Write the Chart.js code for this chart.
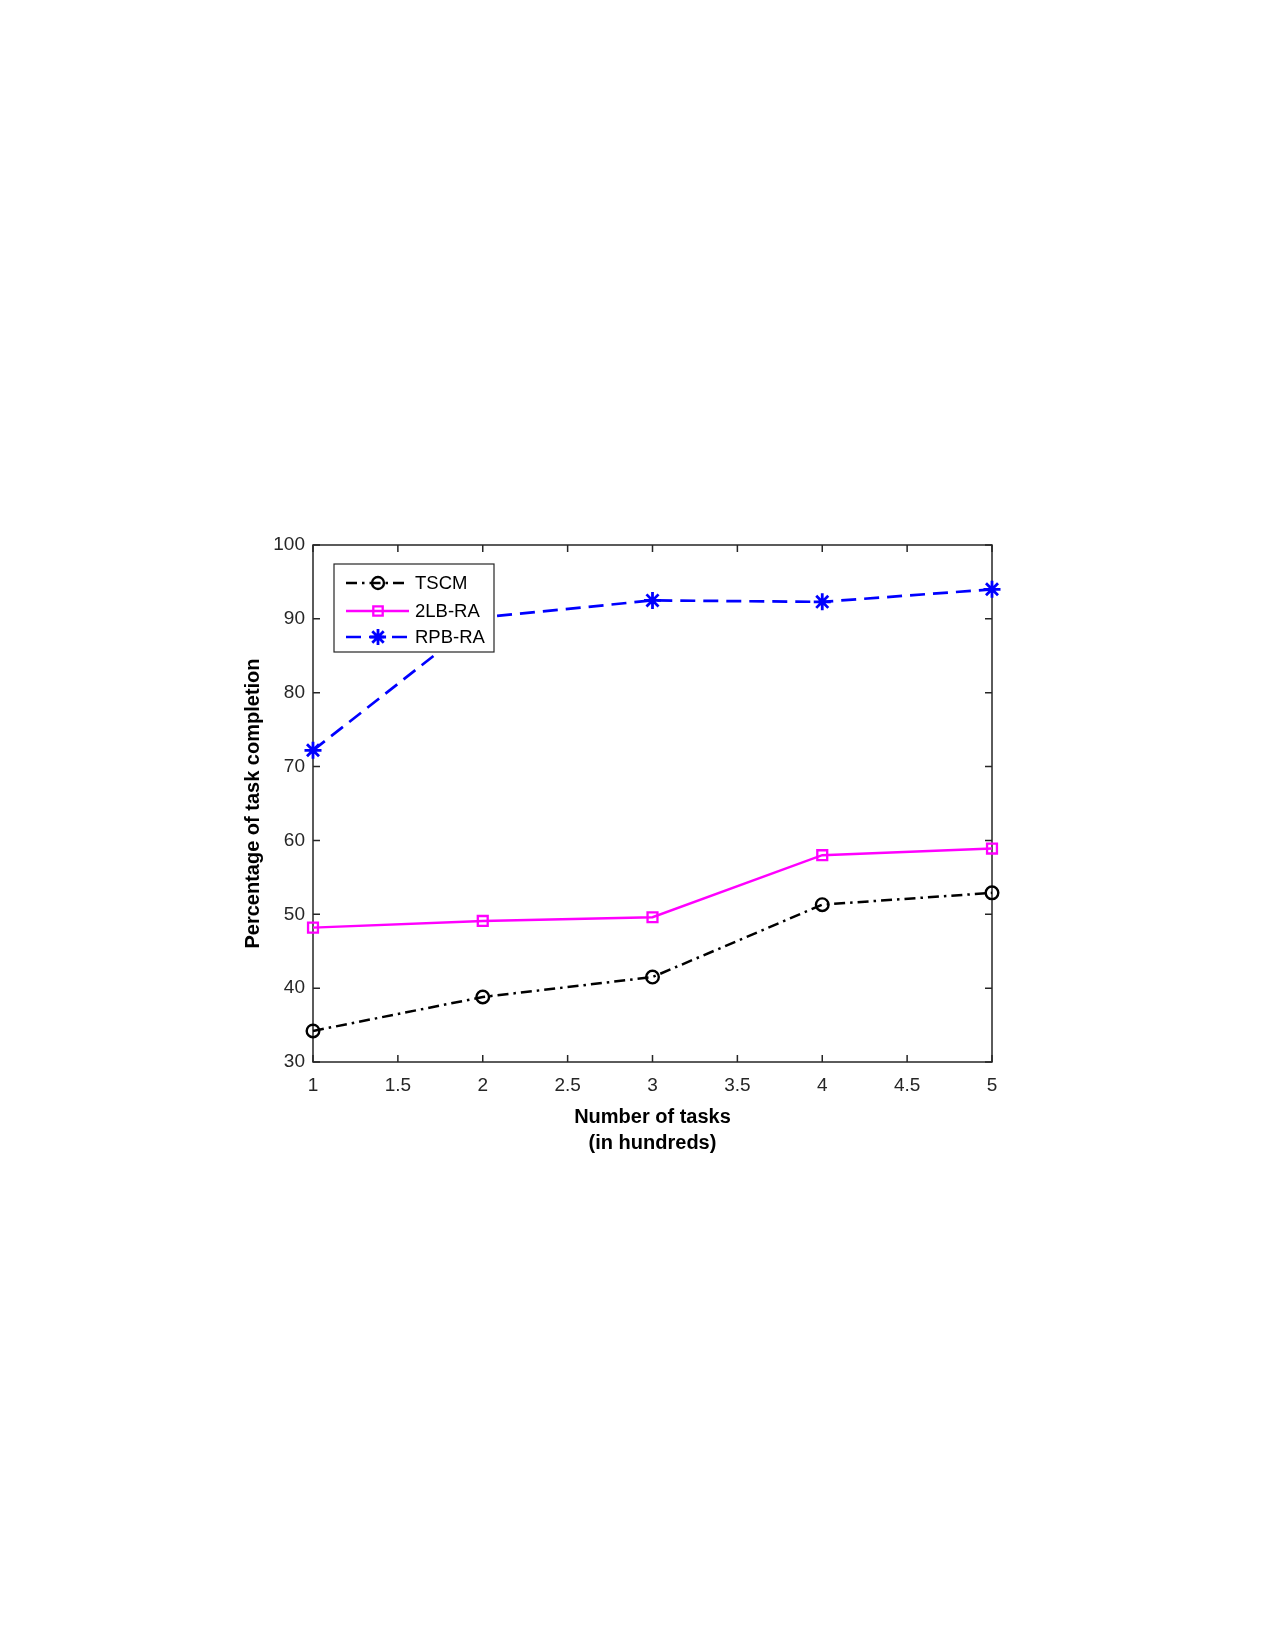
<!DOCTYPE html>
<html>
<head>
<meta charset="utf-8">
<script src="https://cdn.jsdelivr.net/npm/chart.js@4/dist/chart.umd.min.js"></script>
<style>
  html, body { margin: 0; padding: 0; background: #fff; }
  #wrap { width: 1275px; height: 1650px; }
</style>
</head>
<body>
<div id="wrap"><canvas id="c" width="1275" height="1650"></canvas></div>
<script>
// ---- data ----
const xValues = [1, 2, 3, 4, 5];
const seriesNames = ['TSCM', '2LB-RA', 'RPB-RA'];
const tscm = [34.2, 38.8, 41.5, 51.3, 52.9];
const lb2ra = [48.2, 49.1, 49.6, 58.0, 58.9];
const rpbra = [72.2, 90.2, 92.5, 92.3, 94.0];
const xTitle = ['Number of tasks', '(in hundreds)'];
const yTitle = 'Percentage of task completion';

const toPts = arr => arr.map((v, i) => ({ x: xValues[i], y: v }));
const FONT = 'Liberation Sans, Arial, Helvetica, sans-serif';
const AXC = '#262626';

const styles = [
  { color: '#000000', dash: [11, 5, 2.5, 5], marker: 'circle', radius: 6.3, width: 2.5, mw: 2.4 },
  { color: '#ff00ff', dash: [], marker: 'rect', radius: 7.0, width: 2.4, mw: 2.3 },
  { color: '#0000ff', dash: [15, 8], marker: 'star', radius: 8.5, width: 2.7, mw: 2.8 }
];
const seriesData = [tscm, lb2ra, rpbra];

const datasets = seriesData.map((d, i) => ({
  label: seriesNames[i],
  data: toPts(d),
  borderColor: styles[i].color,
  backgroundColor: 'rgba(0,0,0,0)',
  borderWidth: styles[i].width,
  borderDash: styles[i].dash,
  pointStyle: styles[i].marker,
  pointRadius: styles[i].radius,
  pointBorderWidth: styles[i].mw,
  pointBorderColor: styles[i].color,
  pointBackgroundColor: 'rgba(0,0,0,0)',
  tension: 0,
  clip: false
}));

// frame + inward ticks on all four sides
const framePlugin = {
  id: 'frame',
  beforeDatasetsDraw(chart) {
    const { ctx, chartArea: a, scales } = chart;
    ctx.save();
    ctx.strokeStyle = AXC;
    ctx.lineWidth = 1.5;
    ctx.setLineDash([]);
    ctx.strokeRect(a.left, a.top, a.right - a.left, a.bottom - a.top);
    const tl = 7;
    ctx.beginPath();
    scales.x.ticks.forEach(t => {
      const px = scales.x.getPixelForValue(t.value);
      ctx.moveTo(px, a.bottom); ctx.lineTo(px, a.bottom - tl);
      ctx.moveTo(px, a.top); ctx.lineTo(px, a.top + tl);
    });
    scales.y.ticks.forEach(t => {
      const py = scales.y.getPixelForValue(t.value);
      ctx.moveTo(a.left, py); ctx.lineTo(a.left + tl, py);
      ctx.moveTo(a.right, py); ctx.lineTo(a.right - tl, py);
    });
    ctx.stroke();
    ctx.restore();
  }
};

function drawMarker(ctx, style, x, y, r) {
  ctx.beginPath();
  if (style === 'circle') {
    ctx.arc(x, y, r, 0, Math.PI * 2);
  } else if (style === 'rect') {
    const s = Math.SQRT1_2 * r;
    ctx.rect(x - s, y - s, 2 * s, 2 * s);
  } else if (style === 'star') {
    for (let k = 0; k < 4; k++) {
      const ang = k * Math.PI / 4;
      ctx.moveTo(x - r * Math.cos(ang), y - r * Math.sin(ang));
      ctx.lineTo(x + r * Math.cos(ang), y + r * Math.sin(ang));
    }
  }
  ctx.stroke();
}

// MATLAB-style legend inside the axes
const legendPlugin = {
  id: 'mlegend',
  afterDatasetsDraw(chart) {
    const { ctx, chartArea: a } = chart;
    const bx = a.left + 21, by = a.top + 19, bw = 160, bh = 88;
    ctx.save();
    ctx.fillStyle = '#ffffff';
    ctx.fillRect(bx, by, bw, bh);
    ctx.strokeStyle = AXC;
    ctx.lineWidth = 1.2;
    ctx.setLineDash([]);
    ctx.strokeRect(bx, by, bw, bh);
    const rows = [by + 19, by + 47, by + 73];
    chart.data.datasets.forEach((ds, i) => {
      const y = rows[i];
      const st = styles[i];
      ctx.strokeStyle = st.color;
      ctx.lineWidth = st.width;
      ctx.setLineDash(st.dash);
      ctx.beginPath();
      ctx.moveTo(bx + 12, y);
      ctx.lineTo(bx + 75, y);
      ctx.stroke();
      ctx.setLineDash([]);
      ctx.lineWidth = st.mw;
      drawMarker(ctx, st.marker, bx + 44, y, st.radius * 0.95);
      ctx.fillStyle = '#000';
      ctx.font = '18.5px ' + FONT;
      ctx.textBaseline = 'middle';
      ctx.textAlign = 'left';
      ctx.fillText(ds.label, bx + 81, y + 1);
    });
    ctx.restore();
  }
};

new Chart(document.getElementById('c'), {
  type: 'line',
  data: { datasets },
  options: {
    responsive: false,
    animation: false,
    devicePixelRatio: 1,
    layout: { padding: { left: 240.5, top: 545, right: 283, bottom: 494 } },
    plugins: { legend: { display: false }, tooltip: { enabled: false } },
    scales: {
      x: {
        type: 'linear',
        min: 1, max: 5,
        afterFit(s) { s.height = 94; },
        ticks: { stepSize: 0.5, color: AXC, font: { family: FONT, size: 19 }, padding: 12, maxRotation: 0,
                 callback: v => String(Math.round(v * 10) / 10) },
        grid: { display: false, drawTicks: false },
        border: { display: false },
        title: { display: true, text: xTitle, color: '#000', font: { family: FONT, size: 20, weight: 'bold', lineHeight: 1.3 }, padding: 0 }
      },
      y: {
        type: 'linear',
        min: 30, max: 100,
        afterFit(s) { s.width = 72.5; },
        ticks: { stepSize: 10, color: AXC, font: { family: FONT, size: 19 }, padding: 8 },
        grid: { display: false, drawTicks: false },
        border: { display: false },
        title: { display: true, text: yTitle, color: '#000', font: { family: FONT, size: 20, weight: 'bold', lineHeight: 1.3 }, padding: 0 }
      }
    }
  },
  plugins: [framePlugin, legendPlugin]
});
</script>
</body>
</html>
